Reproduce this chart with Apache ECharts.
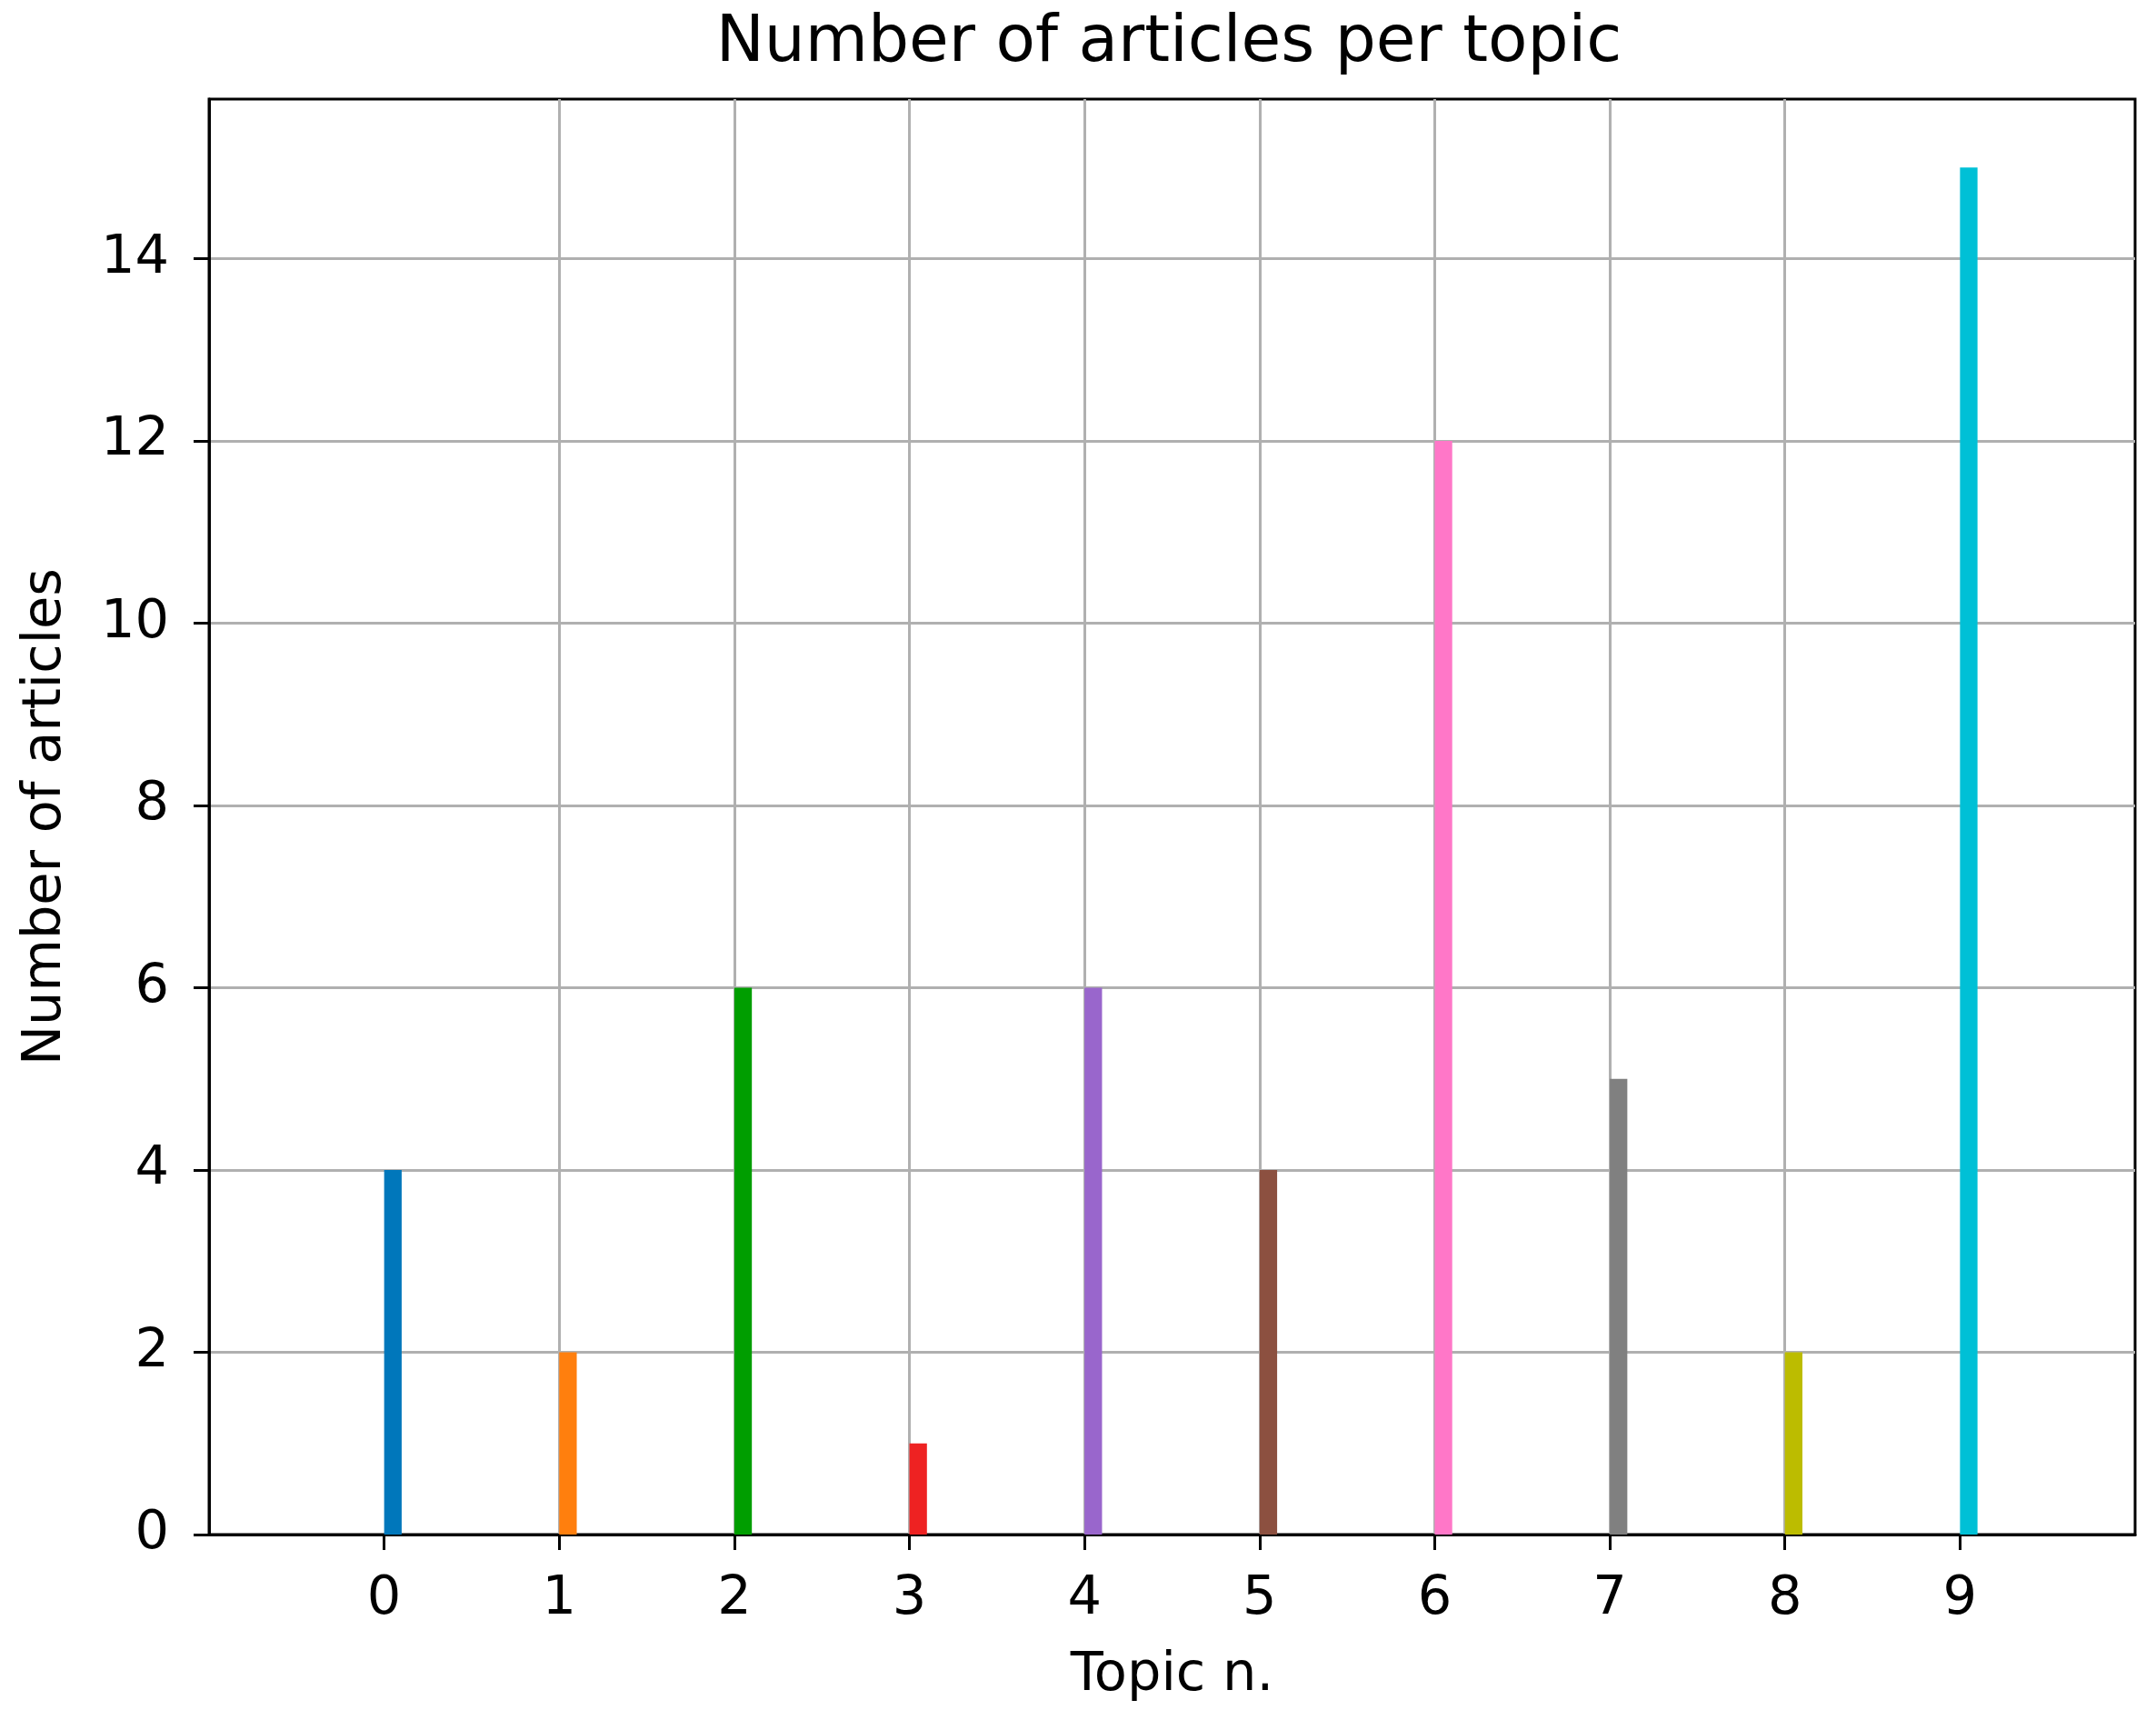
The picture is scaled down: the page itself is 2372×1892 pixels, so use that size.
<!DOCTYPE html>
<html>
<head>
<meta charset="utf-8">
<script src="https://cdn.jsdelivr.net/npm/echarts@6/dist/echarts.min.js"></script>
<style>
  html, body { margin: 0; padding: 0; background: #fff; }
  #chart { width: 2372px; height: 1892px; }
</style>
</head>
<body>
<div id="chart"></div>
<script>
// data
const topics = [0, 1, 2, 3, 4, 5, 6, 7, 8, 9];
const counts = [4, 2, 6, 1, 6, 4, 12, 5, 2, 15];
const barColors = ['#0077bb', '#ff7f0e', '#009e00', '#ee2222', '#9966cc',
                   '#8c5040', '#ff77c8', '#808080', '#bcbc00', '#00c0d6'];

const barW = 0.1; // bar width in axis units, left edge on the tick
const font = 'DejaVu Sans';

const chart = echarts.init(document.getElementById('chart'));

const option = {
    backgroundColor: '#fff',
    animation: false,
    title: {
        text: 'Number of articles per topic',
        left: 1281,
        textAlign: 'center',
        top: 8,
        textStyle: { fontFamily: font, fontSize: 71, fontWeight: 'normal', color: '#000' }
    },
    grid: {
        left: 230, right: 23, top: 109, bottom: 204,
        outerBoundsMode: 'none',
        show: true, borderColor: '#000', borderWidth: 3, backgroundColor: 'transparent'
    },
    xAxis: {
        type: 'value',
        min: -1, max: 10, interval: 1,
        name: 'Topic n.',
        nameLocation: 'middle',
        nameGap: 126,
        nameTextStyle: { fontFamily: font, fontSize: 59, color: '#000' },
        axisLine: { show: true, onZero: false, lineStyle: { color: '#000', width: 3 } },
        axisTick: { show: true, length: 17, lineStyle: { color: '#000', width: 3 }, customValues: topics },
        axisLabel: {
            fontFamily: font, fontSize: 59, color: '#000', margin: 42,
            customValues: topics
        },
        splitLine: { show: true, showMinLine: false, showMaxLine: false, lineStyle: { color: '#b0b0b0', width: 3 } }
    },
    yAxis: {
        type: 'value',
        min: 0, max: 15.75, interval: 2,
        name: 'Number of articles',
        nameLocation: 'middle',
        nameRotate: 90,
        nameGap: 150,
        nameTextStyle: { fontFamily: font, fontSize: 59, color: '#000' },
        axisLine: { show: true, onZero: false, lineStyle: { color: '#000', width: 3 } },
        axisTick: { show: true, length: 17, lineStyle: { color: '#000', width: 3 } },
        axisLabel: {
            fontFamily: font, fontSize: 59, color: '#000', margin: 44,
            showMaxLabel: false
        },
        splitLine: { show: true, showMinLine: false, showMaxLine: false, lineStyle: { color: '#b0b0b0', width: 3 } }
    },
    series: [{
        type: 'custom',
        data: topics.map((t, i) => [t, counts[i]]),
        encode: { x: 0, y: 1 },
        z: 5,
        renderItem: function (params, api) {
            const x = api.value(0);
            const v = api.value(1);
            const p0 = api.coord([x, 0]);
            const p1 = api.coord([x + barW, v]);
            return {
                type: 'rect',
                shape: { x: p0[0], y: p1[1], width: p1[0] - p0[0], height: p0[1] - p1[1] },
                style: { fill: barColors[params.dataIndex] }
            };
        }
    }]
};

chart.setOption(option);
</script>
</body>
</html>
